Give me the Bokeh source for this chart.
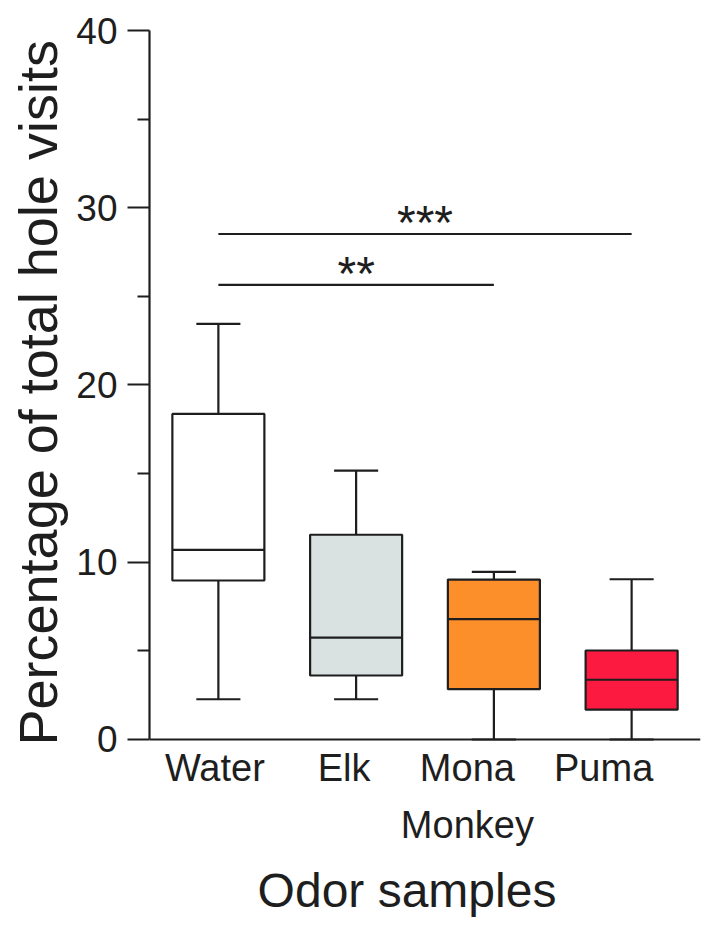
from bokeh.plotting import figure
from bokeh.models import Range1d, FixedTicker, Span, ColumnDataSource, Title
from bokeh.core.properties import value
from bokeh.embed import file_html
from bokeh.resources import INLINE

# ---- data ----
categories = ["Water", "Elk", "Mona\nMonkey", "Puma"]
whisker_low = [2.27, 2.27, 0.0, 0.0]
q1 = [8.97, 3.61, 2.84, 1.68]
median = [10.7, 5.75, 6.79, 3.37]
q3 = [18.37, 11.55, 9.02, 5.02]
whisker_high = [23.45, 15.17, 9.46, 9.04]
box_colors = ["#ffffff", "#d9e1e1", "#fd8f2b", "#fd1a41"]

sig_from = ["Water", "Water"]
sig_to = ["Mona\nMonkey", "Puma"]
sig_height = [25.65, 28.52]
sig_marks = ["**", "***"]

y_ticks = [0, 10, 20, 30, 40]
y_minor_ticks = [5, 15, 25, 35]
y_title = "Percentage of total hole visits"
x_title = "Odor samples"

# ---- styles ----
FONT = "Liberation Sans"
INK = "#1e1e1e"
LW = 2.2
label_dx = [-3.5, -12, -26.5, -28]  # pixel nudges of category labels

pos = {c: i + 1 for i, c in enumerate(categories)}
xs = [pos[c] for c in categories]
n = len(categories)

src = ColumnDataSource(dict(x=xs, lo=whisker_low, q1=q1, med=median, q3=q3,
                            hi=whisker_high, color=box_colors,
                            label=categories, dx=label_dx))

p = figure(frame_width=551, frame_height=900,
           min_border_left=149, min_border_right=1,
           min_border_top=30, min_border_bottom=0,
           x_range=Range1d(0.5, n + 0.5), y_range=Range1d(-10.776, 40),
           x_axis_location=None, output_backend="svg", toolbar_location=None,
           background_fill_color="white", border_fill_color="white")
p.outline_line_color = None
p.grid.visible = False

# y axis
ya = p.yaxis[0]
ya.bounds = (0, 40)
ya.ticker = FixedTicker(ticks=y_ticks, minor_ticks=y_minor_ticks)
ya.axis_line_width = LW
ya.axis_line_color = INK
ya.major_tick_line_width = LW
ya.major_tick_line_color = INK
ya.minor_tick_line_width = LW
ya.minor_tick_line_color = INK
ya.major_tick_out = 22
ya.major_tick_in = 0
ya.minor_tick_out = 12
ya.minor_tick_in = 0
ya.major_label_standoff = 10
ya.major_label_text_font = FONT
ya.major_label_text_font_size = "37px"
ya.major_label_text_color = INK

# y title in the left panel, beside the axis
p.add_layout(Title(text=y_title, align="left", offset=185, vertical_align="middle",
                   standoff=9, text_font=FONT, text_font_size="54px",
                   text_font_style="normal", text_color=INK), "left")

# x axis line at y = 0
p.add_layout(Span(location=0, dimension="width", line_color=INK, line_width=LW))

BOX_W = 0.668
CAP_W = 0.32

# whiskers
p.segment(x0="x", y0="lo", x1="x", y1="q1", source=src, line_color=INK, line_width=LW)
p.segment(x0="x", y0="q3", x1="x", y1="hi", source=src, line_color=INK, line_width=LW)
# caps
cap_src = ColumnDataSource(dict(x0=[x - CAP_W / 2 for x in xs], x1=[x + CAP_W / 2 for x in xs],
                                lo=whisker_low, hi=whisker_high))
p.segment(x0="x0", y0="lo", x1="x1", y1="lo", source=cap_src, line_color=INK, line_width=LW)
p.segment(x0="x0", y0="hi", x1="x1", y1="hi", source=cap_src, line_color=INK, line_width=LW)
# boxes
p.vbar(x="x", bottom="q1", top="q3", width=BOX_W, source=src, fill_color="color",
       line_color=INK, line_width=LW)
# medians
med_src = ColumnDataSource(dict(x0=[x - BOX_W / 2 for x in xs], x1=[x + BOX_W / 2 for x in xs],
                                y=median))
p.segment(x0="x0", y0="y", x1="x1", y1="y", source=med_src, line_color=INK, line_width=LW)

# significance bars
sx0 = [pos[a] for a in sig_from]
sx1 = [pos[b] for b in sig_to]
sig_src = ColumnDataSource(dict(x0=sx0, x1=sx1, y=sig_height, xm=[(a + b) / 2 for a, b in zip(sx0, sx1)],
                                t=sig_marks))
p.segment(x0="x0", y0="y", x1="x1", y1="y", source=sig_src, line_color=INK, line_width=LW)
p.text(x="xm", y="y", text="t", source=sig_src, text_font=value(FONT),
       text_font_size="48px", text_align="center", text_baseline="alphabetic",
       y_offset=-11, text_color=INK)

# category labels
p.text(x="x", y=0, text="label", source=src, x_offset="dx", y_offset=8,
       text_font=value(FONT), text_font_size="38px", text_align="center",
       text_baseline="top", text_line_height=1.35, text_color=INK)

# x title
p.text(x=[(n + 1) / 2], y=[0], text=[x_title], x_offset=-18, y_offset=151,
       text_font=value(FONT), text_font_size="48px", text_align="center",
       text_baseline="alphabetic", text_color=INK)

open("out.html", "w").write(file_html(p, INLINE))
